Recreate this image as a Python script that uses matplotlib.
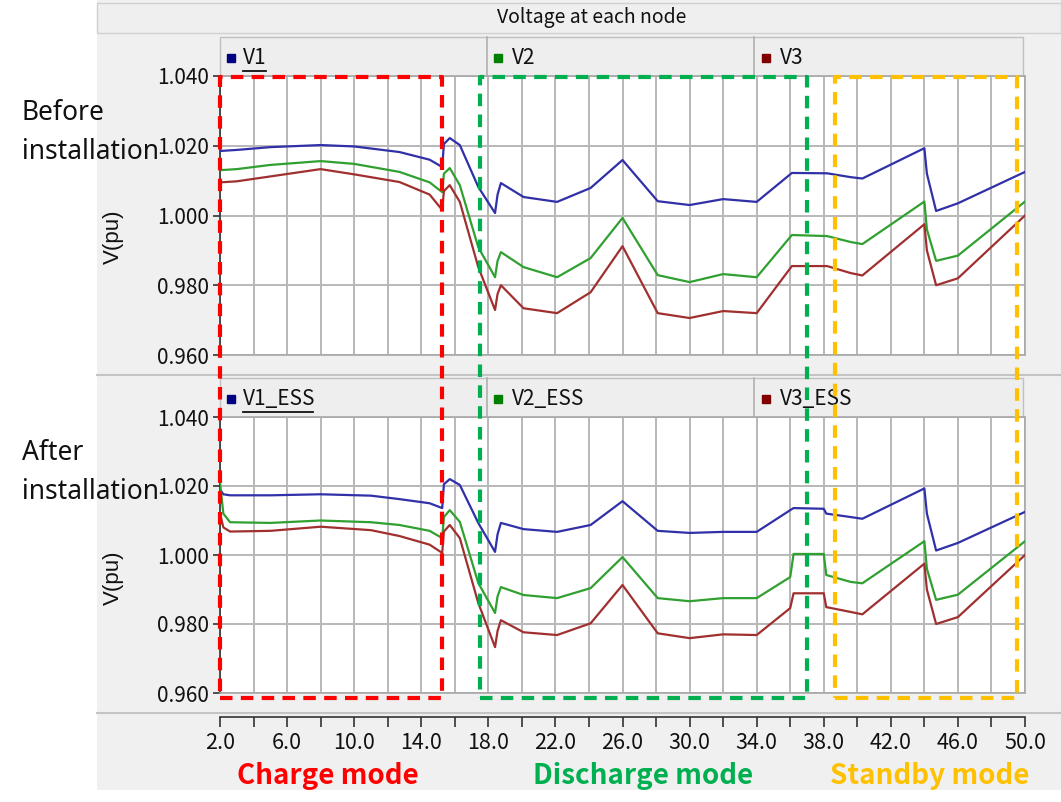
import matplotlib
matplotlib.use('Agg')
import matplotlib.pyplot as plt
from matplotlib.patches import Rectangle
from matplotlib.lines import Line2D
import matplotlib.transforms as mtransforms

# ---------------- data ----------------
t_before = [2.0, 3.0, 5.0, 8.0, 10.0, 12.7, 14.5, 15.25, 15.35, 15.7, 16.3, 17.4, 18.4, 18.55, 18.75,
            20.1, 22.1, 24.1, 26.0, 28.1, 30.0, 32.0, 34.0, 36.1, 38.2, 39.6, 40.3, 44.0, 44.15, 44.7,
            46.0, 50.0]
v1 = [1.0185, 1.0188, 1.0196, 1.0202, 1.0198, 1.0182, 1.0160, 1.0139, 1.0205, 1.0222, 1.0202, 1.0082,
      1.0007, 1.0060, 1.0093, 1.0053, 1.0039, 1.0079, 1.0159, 1.0041, 1.0030, 1.0047, 1.0039, 1.0122,
      1.0121, 1.0110, 1.0106, 1.0193, 1.0120, 1.0013, 1.0035, 1.0125]
v2 = [1.0130, 1.0133, 1.0145, 1.0156, 1.0148, 1.0125, 1.0095, 1.0067, 1.0120, 1.0136, 1.0087, 0.9909,
      0.9823, 0.9870, 0.9895, 0.9852, 0.9823, 0.9878, 0.9993, 0.9829, 0.9809, 0.9832, 0.9823, 0.9944,
      0.9941, 0.9924, 0.9918, 1.0040, 0.9960, 0.9870, 0.9885, 1.0040]
v3 = [1.0095, 1.0098, 1.0112, 1.0133, 1.0118, 1.0096, 1.0060, 1.0016, 1.0070, 1.0087, 1.0039, 0.9852,
      0.9729, 0.9775, 0.9800, 0.9734, 0.9720, 0.9780, 0.9912, 0.9720, 0.9706, 0.9726, 0.9720, 0.9855,
      0.9855, 0.9835, 0.9828, 0.9975, 0.9900, 0.9800, 0.9820, 1.0000]

t_after = [2.0, 2.2, 2.6, 5.0, 8.0, 11.0, 12.7, 14.5, 15.25, 15.35, 15.7, 16.3, 17.4, 18.4, 18.55, 18.75,
           20.1, 22.1, 24.1, 26.0, 28.1, 30.0, 32.0, 34.0, 36.0, 36.2, 38.0, 38.15, 39.6, 40.3, 44.0,
           44.15, 44.7, 46.0, 50.0]
v1_ess = [1.0190, 1.0176, 1.0173, 1.0173, 1.0176, 1.0172, 1.0162, 1.0150, 1.0136, 1.0205, 1.0220,
          1.0203, 1.0093, 1.0009, 1.0060, 1.0093, 1.0075, 1.0067, 1.0087, 1.0156, 1.0070, 1.0064,
          1.0067, 1.0067, 1.0130, 1.0136, 1.0134, 1.0120, 1.0110, 1.0105, 1.0193, 1.0120, 1.0013,
          1.0035, 1.0125]
v2_ess = [1.0210, 1.0120, 1.0095, 1.0093, 1.0100, 1.0095, 1.0087, 1.0070, 1.0049, 1.0110, 1.0130,
          1.0096, 0.9919, 0.9832, 0.9880, 0.9907, 0.9884, 0.9875, 0.9904, 0.9994, 0.9875, 0.9866,
          0.9875, 0.9875, 0.9936, 1.0003, 1.0003, 0.9942, 0.9922, 0.9918, 1.0040, 0.9960, 0.9870,
          0.9885, 1.0040]
v3_ess = [1.0120, 1.0080, 1.0068, 1.0070, 1.0082, 1.0072, 1.0055, 1.0030, 1.0006, 1.0068, 1.0087,
          1.0049, 0.9861, 0.9733, 0.9780, 0.9811, 0.9776, 0.9768, 0.9802, 0.9913, 0.9773, 0.9759,
          0.9770, 0.9768, 0.9846, 0.9889, 0.9889, 0.9849, 0.9835, 0.9828, 0.9975, 0.9900, 0.9800,
          0.9820, 1.0000]

y_ticks = [0.960, 0.980, 1.000, 1.020, 1.040]
x_major = [2.0, 6.0, 10.0, 14.0, 18.0, 22.0, 26.0, 30.0, 34.0, 38.0, 42.0, 46.0, 50.0]
x_grid = list(range(2, 51, 2))

legend_before = ['V1', 'V2', 'V3']
legend_after = ['V1_ESS', 'V2_ESS', 'V3_ESS']
modes = ['Charge mode', 'Discharge mode', 'Standby mode']
mode_spans = [(2.0, 15.24), (17.5, 37.0), (38.67, 49.53)]

# ---------------- style ----------------
line_colors = ['#3030a8', '#30a030', '#a03030']
marker_colors = ['#000080', '#008000', '#800000']
mode_colors = ['#ff0000', '#00b050', '#ffc000']
NARROW = ['Noto Sans CJK JP', 'DejaVu Sans']
BOLDF = ['Noto Sans CJK KR', 'DejaVu Sans']

W, H = 1061, 802
fig = plt.figure(figsize=(W / 100, H / 100), dpi=100)
fig.patch.set_facecolor('white')


def fx(px):
    return px / W


def fy(py):
    return 1 - py / H


def add_rect(x0, y0, x1, y1, **kw):
    r = Rectangle((fx(x0), fy(y1)), fx(x1) - fx(x0), fy(y0) - fy(y1),
                  transform=fig.transFigure, **kw)
    fig.add_artist(r)
    return r


def add_line(xs, ys, **kw):
    ln = Line2D([fx(x) for x in xs], [fy(y) for y in ys], transform=fig.transFigure, **kw)
    fig.add_artist(ln)
    return ln


# backgrounds
add_rect(97, 0, 1061, 790, facecolor='#f0f0f0', edgecolor='none', zorder=-10)
add_rect(97, 3, 1061, 33, facecolor='#efefef', edgecolor='#d0d0d0', lw=1.0, zorder=-9)
add_line([97, 1061], [375, 375], color='#c4c4c4', lw=1.5, zorder=-8)
add_line([97, 1061], [713, 713], color='#c4c4c4', lw=1.5, zorder=-8)
fig.text(fx(592), fy(17), 'Voltage at each node', family=NARROW, fontsize=14,
         ha='center', va='center', color='#111111')

# legend strips
for (top, bot), names, ul in [((37, 76), legend_before, 266), ((378, 417), legend_after, 313)]:
    add_rect(220, top, 1023, bot, facecolor='#eeeeee', edgecolor='#c0c0c0', lw=1.0, zorder=-7)
    for sx in (487, 754):
        add_line([sx, sx], [top, bot], color='#b0b0b0', lw=1.2, zorder=-6)
    ymid = (top + bot) / 2 + 1
    for i, (mx, tx) in enumerate([(231, 243), (498, 512), (766, 780)]):
        fig.add_artist(Line2D([fx(mx)], [fy(ymid)], marker='s', markersize=6,
                              color=marker_colors[i], transform=fig.transFigure, lw=0))
        fig.text(fx(tx), fy(ymid), names[i], family=NARROW, fontsize=15,
                 ha='left', va='center', color='#111111')
    add_line([243, ul], [ymid + 13, ymid + 13], color='#111111', lw=1.3)


def make_panel(y_top, y_bot, t, series):
    ax = fig.add_axes([fx(220), fy(y_bot), fx(1025) - fx(220), fy(y_top) - fy(y_bot)])
    ax.set_facecolor('white')
    for i, s in enumerate(series):
        ax.plot(t, s, color=line_colors[i], lw=1.6, zorder=3)
    ax.set_xlim(2, 50)
    ax.set_ylim(0.96, 1.04)
    ax.set_xticks(x_grid)
    ax.set_xticklabels([])
    ax.tick_params(axis='x', length=0)
    ax.set_yticks(y_ticks)
    ax.set_yticklabels(['%.3f' % v for v in y_ticks], family=NARROW, fontsize=15)
    ax.tick_params(axis='y', length=5, width=1.2, color='#333333', pad=3, labelcolor='#111111')
    ax.grid(True, color='#b8b8b8', lw=1.4, zorder=1)
    ax.set_axisbelow(True)
    for side in ('top', 'right', 'bottom'):
        ax.spines[side].set_color('#a8a8a8')
        ax.spines[side].set_linewidth(1.2)
    ax.spines['left'].set_color('#333333')
    ax.spines['left'].set_linewidth(1.2)
    return ax


ax_top = make_panel(76, 355, t_before, [v1, v2, v3])
ax_bot = make_panel(417, 693, t_after, [v1_ess, v2_ess, v3_ess])

# y labels
fig.text(fx(113), fy(237), 'V(pu)', family=['Liberation Sans'], fontsize=16,
         rotation=90, ha='center', va='center', color='#111111')
fig.text(fx(113), fy(578), 'V(pu)', family=['Liberation Sans'], fontsize=16,
         rotation=90, ha='center', va='center', color='#111111')

# x axis (separate strip)
ax_x = fig.add_axes([fx(220), fy(717), fx(1025) - fx(220), 0.0005])
ax_x.set_xlim(2, 50)
ax_x.set_facecolor('none')
ax_x.set_yticks([])
for side in ('top', 'right', 'left'):
    ax_x.spines[side].set_visible(False)
ax_x.spines['bottom'].set_color('#333333')
ax_x.spines['bottom'].set_linewidth(1.2)
ax_x.set_xticks(x_major)
ax_x.set_xticklabels(['%.1f' % v for v in x_major], family=NARROW, fontsize=15.5)
ax_x.set_xticks([v for v in x_grid if v not in x_major], minor=True)
ax_x.tick_params(axis='x', which='both', length=7, width=1.2, color='#333333',
                 direction='out', pad=4, labelcolor='#111111')

# side annotations
for txt, y in [('Before', 113), ('installation', 152), ('After', 453), ('installation', 492)]:
    fig.text(fx(22), fy(y), txt, family=['Noto Sans', 'DejaVu Sans'], fontsize=19,
             ha='left', va='center', color='#111111', zorder=20)

# mode boxes
blend = mtransforms.blended_transform_factory(ax_bot.transData, fig.transFigure)
for (x0, x1), c in zip(mode_spans, mode_colors):
    r = Rectangle((x0, fy(698)), x1 - x0, fy(77) - fy(698), transform=blend,
                  fill=False, edgecolor=c, lw=3.0, linestyle=(0, (3, 2)),
                  joinstyle='round', capstyle='butt', zorder=30, clip_on=False)
    fig.add_artist(r)

for name, x, c in zip(modes, [237, 533, 830], mode_colors):
    fig.text(fx(x), fy(776), name, family=BOLDF, fontsize=20,
             fontweight='bold', ha='left', va='center', color=c)

fig.savefig('out.png', dpi=100)
